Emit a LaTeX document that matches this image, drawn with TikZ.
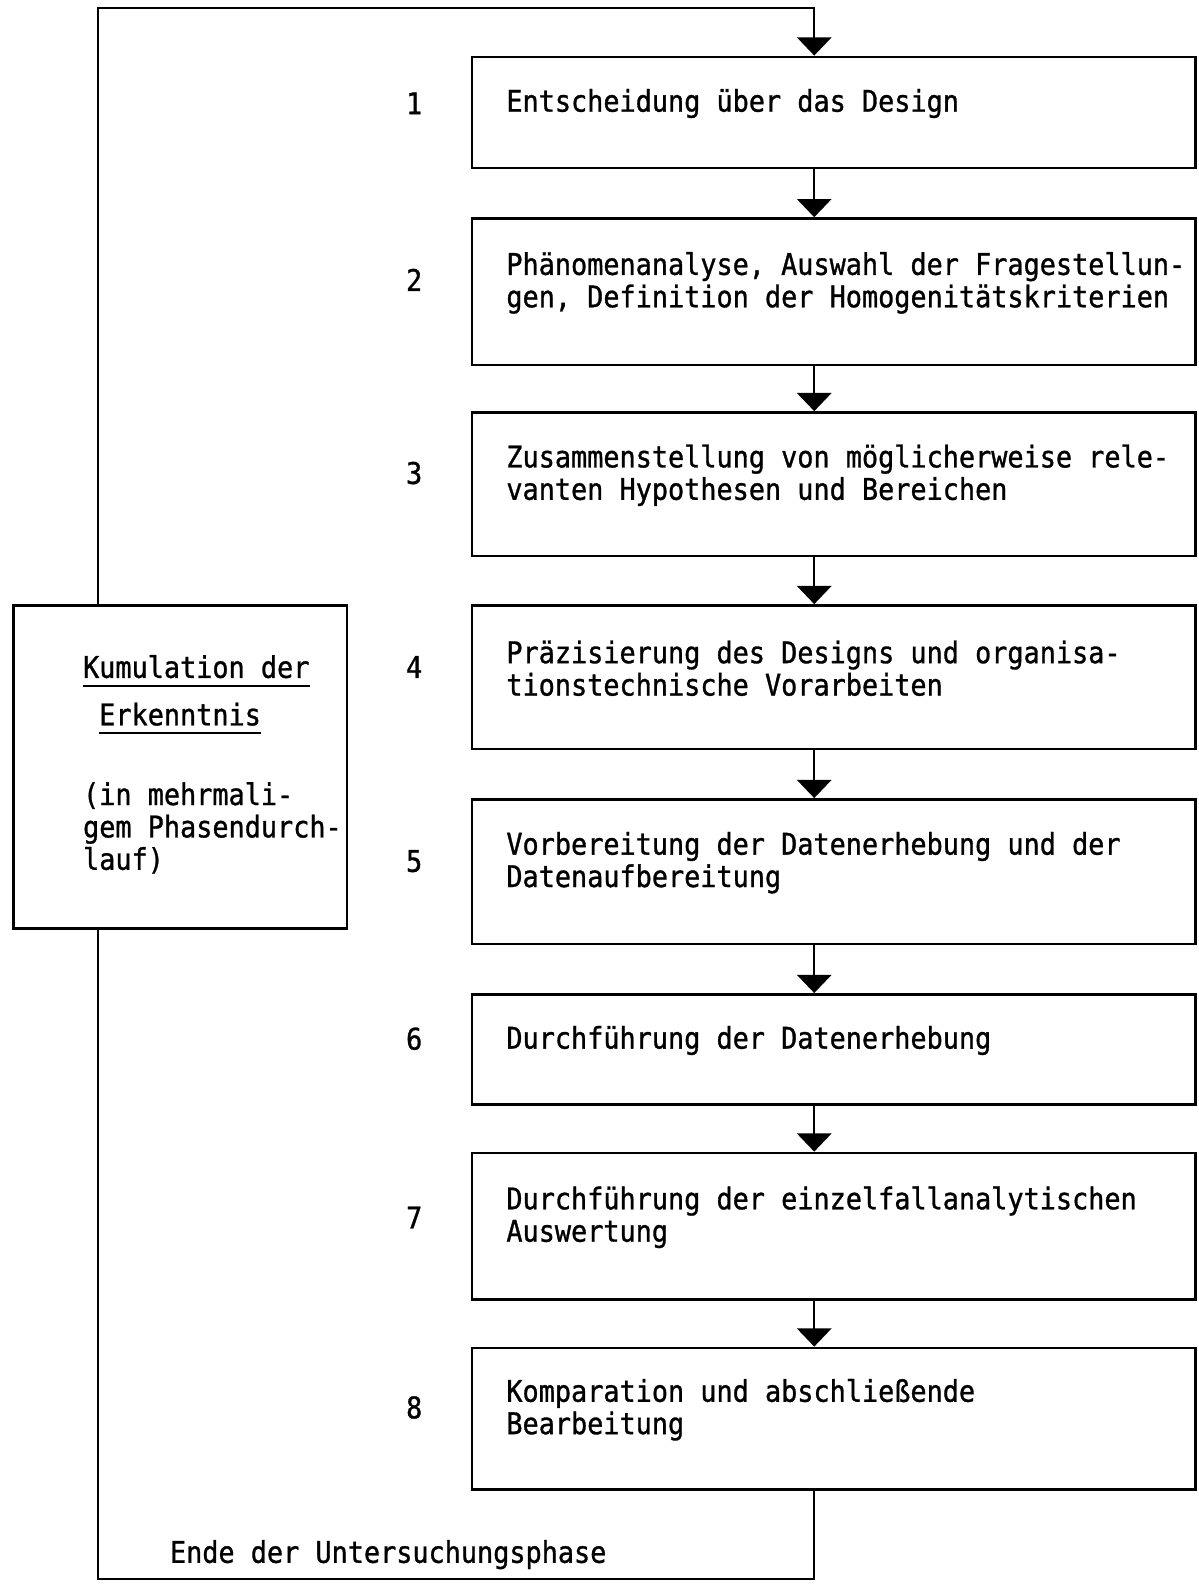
\documentclass[tikz,border=0pt]{standalone}
\usepackage{fontspec}
\setmonofont[FakeStretch=0.9,FakeBold=1]{DejaVu Sans Mono}
\usetikzlibrary{arrows.meta}
\tikzset{
  txt/.style={font=\ttfamily\fontsize{21}{22.8}\selectfont},
  phase/.style={draw,line width=1.8pt,anchor=north west,minimum width=17.9cm},
  phasetext/.style={txt,align=left,anchor=west,inner sep=0pt},
  num/.style={txt,anchor=base},
  flow/.style={line width=1.5pt},
  arr/.style={flow,-{Triangle[width=0.85cm,length=0.45cm]}}
}
\begin{document}
\begin{tikzpicture}[x=0.025cm,y=-0.025cm]
    \useasboundingbox (0,0) rectangle (1186,1568);
    % phases
    \node [phase,minimum height=2.75cm] (b1) at (466,55) {};
    \node [phase,minimum height=3.625cm] (b2) at (466,215) {};
    \node [phase,minimum height=3.55cm] (b3) at (466,407) {};
    \node [phase,minimum height=3.55cm] (b4) at (466,598) {};
    \node [phase,minimum height=3.575cm] (b5) at (466,790) {};
    \node [phase,minimum height=2.725cm] (b6) at (466,983) {};
    \node [phase,minimum height=3.625cm] (b7) at (466,1140) {};
    \node [phase,minimum height=3.5cm] (b8) at (466,1333) {};
    \node [phasetext] (t1) at ([xshift=0.875cm,yshift=0.22cm]b1.west) {Entscheidung über das Design};
    \node [phasetext] (t2) at ([xshift=0.875cm,yshift=0.22cm]b2.west) {Phänomenanalyse, Auswahl der Fragestellun-\\gen, Definition der Homogenitätskriterien};
    \node [phasetext] (t3) at ([xshift=0.875cm,yshift=0.22cm]b3.west) {Zusammenstellung von möglicherweise rele-\\vanten Hypothesen und Bereichen};
    \node [phasetext] (t4) at ([xshift=0.875cm,yshift=0.22cm]b4.west) {Präzisierung des Designs und organisa-\\tionstechnische Vorarbeiten};
    \node [phasetext] (t5) at ([xshift=0.875cm,yshift=0.22cm]b5.west) {Vorbereitung der Datenerhebung und der\\Datenaufbereitung};
    \node [phasetext] (t6) at ([xshift=0.875cm,yshift=0.22cm]b6.west) {Durchführung der Datenerhebung};
    \node [phasetext] (t7) at ([xshift=0.875cm,yshift=0.22cm]b7.west) {Durchführung der einzelfallanalytischen\\Auswertung};
    \node [phasetext] (t8) at ([xshift=0.875cm,yshift=0.22cm]b8.west) {Komparation und abschließende\\Bearbeitung};
    \node [num] (n1) at (410,113) {1};
    \node [num] (n2) at (410,288) {2};
    \node [num] (n3) at (410,479) {3};
    \node [num] (n4) at (410,671) {4};
    \node [num] (n5) at (410,863) {5};
    \node [num] (n6) at (410,1039) {6};
    \node [num] (n7) at (410,1216) {7};
    \node [num] (n8) at (410,1404) {8};
    % cumulation box
    \node [draw,line width=1.8pt,anchor=north west,minimum width=8.25cm,minimum height=8cm] (kum) at (12,598) {};
    \node [txt,anchor=base west,inner xsep=0pt,inner ysep=0.2cm,text depth=0pt] (k1) at (82,671) {Kumulation der};
    \node [txt,anchor=base west,inner xsep=0pt,inner ysep=0.19cm,text depth=0pt] (k2) at (98,718) {Erkenntnis};
    \draw [line width=1.2pt] (k1.south west) -- (k1.south east);
    \draw [line width=1.2pt] (k2.south west) -- (k2.south east);
    \node [txt,anchor=north west,inner sep=0pt,align=left] (k3) at (82,774) {(in mehrmali-\\gem Phasendurch-\\lauf)};
    \node [txt,anchor=base west,inner sep=0pt] (ende) at (168,1547) {Ende der Untersuchungsphase};
    % connectors
    \coordinate (ax) at (806,0);
    \coordinate (lt) at (97,8);
    \coordinate (rt) at (806,8);
    \coordinate (lb) at (97,1563);
    \coordinate (rb) at (806,1563);
    \draw [arr] (b1.south -| ax) -- (b2.north -| ax);
    \draw [arr] (b2.south -| ax) -- (b3.north -| ax);
    \draw [arr] (b3.south -| ax) -- (b4.north -| ax);
    \draw [arr] (b4.south -| ax) -- (b5.north -| ax);
    \draw [arr] (b5.south -| ax) -- (b6.north -| ax);
    \draw [arr] (b6.south -| ax) -- (b7.north -| ax);
    \draw [arr] (b7.south -| ax) -- (b8.north -| ax);
    \draw [flow] (b8.south -| ax) -- (rb) -- (lb) -- (kum.south -| lb);
    \draw [arr] (kum.north -| lt) -- (lt) -- (rt) -- (b1.north -| ax);
\end{tikzpicture}
\end{document}
